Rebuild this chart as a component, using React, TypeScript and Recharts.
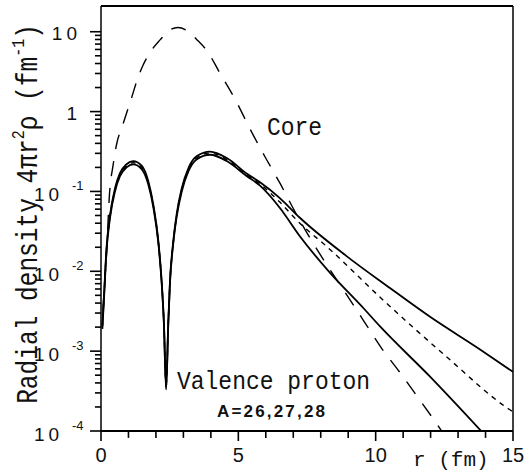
import { LineChart, Line, XAxis, YAxis, ReferenceLine } from 'recharts';

// radius r (fm) and radial density 4πr²ρ (fm⁻¹)

const coreR = [0.07, 0.12, 0.2, 0.3, 0.45, 0.58, 0.76, 0.95, 1.13, 1.3, 1.53, 1.8, 2.15, 2.5, 2.8, 3.1, 3.5, 3.9, 4.3, 4.95, 5.4, 5.95, 6.52, 7.06, 7.64, 8.26, 8.88, 9.5, 10.23, 10.85, 11.5, 12.16, 12.4];
const coreRho = [0.0032, 0.0063, 0.0158, 0.083, 0.224, 0.407, 0.63, 1.0, 1.55, 2.4, 3.8, 5.6, 7.9, 10.5, 11.3, 10.5, 7.9, 5.5, 3.16, 1.29, 0.63, 0.28, 0.126, 0.056, 0.025, 0.0115, 0.0055, 0.0026, 0.00107, 0.00056, 0.000275, 0.000132, 0.0001];

// the three valence curves nearly coincide inside r ~ 6 fm
const innerR = [0.05, 0.11, 0.2, 0.33, 0.51, 0.69, 0.93, 1.17, 1.48, 1.72, 1.91, 2.09, 2.21, 2.29, 2.37, 2.45, 2.51, 2.63, 2.75, 2.94, 3.18, 3.48, 3.97, 4.58, 5.3, 5.79];

const upperR = [...innerR, 6.5, 7.24, 8.94, 10.52, 11.98, 13.8, 15];
const upperRho = [0.0021, 0.005, 0.0195, 0.051, 0.11, 0.17, 0.219, 0.24, 0.21, 0.135, 0.067, 0.0235, 0.0074, 0.0023, 0.00036, 0.0023, 0.0074, 0.0235, 0.051, 0.11, 0.195, 0.275, 0.315, 0.262, 0.168, 0.13,
    0.0832, 0.0468, 0.0155, 0.00617, 0.00269, 0.00105, 0.00055];

const midR = [...innerR, 6.5, 7.24, 8.22, 10.3, 12.58, 14.83, 15];
const midRho = [0.002, 0.0048, 0.0186, 0.049, 0.105, 0.162, 0.209, 0.229, 0.2, 0.129, 0.0646, 0.0229, 0.00724, 0.00229, 0.00034, 0.00229, 0.00724, 0.0229, 0.049, 0.105, 0.186, 0.263, 0.302, 0.251, 0.162, 0.124,
    0.0741, 0.04, 0.0204, 0.00427, 0.00085, 0.00019, 0.000174];

const lowerR = [...innerR, 6.5, 7.24, 8.34, 9.55, 10.16, 11.98, 13.84];
const lowerRho = [0.0019, 0.0046, 0.0178, 0.047, 0.1, 0.155, 0.2, 0.218, 0.19, 0.123, 0.062, 0.0222, 0.007, 0.0022, 0.00033, 0.0022, 0.007, 0.0222, 0.047, 0.1, 0.178, 0.252, 0.288, 0.24, 0.156, 0.118,
    0.063, 0.0275, 0.00955, 0.00347, 0.00204, 0.000479, 0.0001];

const xMajor = [0, 5, 10, 15];
const xMinor = [1, 2, 3, 4, 6, 7, 8, 9, 11, 12, 13, 14];

const yMajor = [0.0001, 0.001, 0.01, 0.1, 1, 10];
const yMajorBase = ['10', '10', '10', '10', '1', '10'];
const yMajorExp = ['-4', '-3', '-2', '-1', '', ''];
const yMantissa = [2, 3, 4, 5, 6, 7, 8, 9];
const yDecades = [0.0001, 0.001, 0.01, 0.1, 1];

const Y_MIN = 0.0001;
const Y_MAX = 21;
const AXIS_LEFT = 101; // = YAxis width, margin.left is 0

// minor tick lengths, in data units (drawn as reference segments outside the plot)
const Y_MINOR_LEN = 0.22; // r units, ~6px
const X_MINOR_END = 0.000082; // below 1e-4, ~7px

const toPoints = (rs: number[], vs: number[]) => rs.map((r, i) => ({ r, v: vs[i] }));

const coreData = toPoints(coreR, coreRho);
const upperData = toPoints(upperR, upperRho);
const midData = toPoints(midR, midRho);
const lowerData = toPoints(lowerR, lowerRho);

const yMinor = yDecades.flatMap((d) => yMantissa.map((m) => m * d));

const MONO = "'Liberation Mono', 'DejaVu Sans Mono', monospace";
const SANS = "'Liberation Sans', Arial, sans-serif";
const TICK = '#000';

function YTick(props: any) {
    const { y, payload } = props;
    const x = AXIS_LEFT;
    const idx = yMajor.indexOf(payload.value);
    if (idx < 0) return <g />;
    const exp = yMajorExp[idx];
    return (
        <g>
            <path d={`M${x - 11},${y}H${x}`} stroke={TICK} strokeWidth={1.6} fill="none" />
            {exp !== '' ? (
                <>
                    <text x={x - 67} y={y + 10} fontFamily={SANS} fontSize={19} letterSpacing={4} fill="#111">
                        {yMajorBase[idx]}
                    </text>
                    <text x={x - 29} y={y - 1} fontFamily={SANS} fontSize={13} fill="#111">
                        {exp}
                    </text>
                </>
            ) : (
                <text x={x - 20} y={y + 8} textAnchor="end" fontFamily={SANS} fontSize={19} letterSpacing={4} fill="#111">
                    {yMajorBase[idx]}
                </text>
            )}
        </g>
    );
}

function XTick(props: any) {
    const { x, y, payload } = props;
    if (!xMajor.includes(payload.value)) return <g />;
    return (
        <g>
            <path d={`M${x},${y}V${y + 10}`} stroke={TICK} strokeWidth={1.6} fill="none" />
            <text x={x} y={y + 31} textAnchor="middle" fontFamily={SANS} fontSize={20} fill="#111">
                {payload.value}
            </text>
        </g>
    );
}

export default function App() {
    return (
        <div style={{ position: 'absolute', left: 0, top: 0, width: 526, height: 472, background: '#fff' }}>
            <LineChart width={526} height={472} margin={{ top: 6, right: 13, bottom: 0, left: 0 }}>
                <XAxis
                    type="number"
                    dataKey="r"
                    domain={[0, 15]}
                    ticks={xMajor}
                    interval={0}
                    allowDataOverflow
                    height={41}
                    tickSize={0}
                    tickMargin={0}
                    tickLine={false}
                    tick={<XTick />}
                    axisLine={{ stroke: '#000', strokeWidth: 2 }}
                />
                <YAxis
                    type="number"
                    scale="log"
                    domain={[Y_MIN, Y_MAX]}
                    ticks={yMajor}
                    interval={0}
                    allowDataOverflow
                    width={101}
                    tickSize={0}
                    tickMargin={0}
                    tickLine={false}
                    tick={<YTick />}
                    axisLine={{ stroke: '#000', strokeWidth: 1.5 }}
                />
                <ReferenceLine y={Y_MAX} ifOverflow="visible" stroke="#000" strokeWidth={2} />
                <ReferenceLine x={15} ifOverflow="visible" stroke="#000" strokeWidth={1.5} />
                {yMinor.map((v) => (
                    <ReferenceLine key={`ym${v}`} segment={[{ x: -Y_MINOR_LEN, y: v }, { x: 0, y: v }]} ifOverflow="visible" stroke={TICK} strokeWidth={1.6} />
                ))}
                {xMinor.map((r) => (
                    <ReferenceLine key={`xm${r}`} segment={[{ x: r, y: Y_MIN }, { x: r, y: X_MINOR_END }]} ifOverflow="visible" stroke={TICK} strokeWidth={1.6} />
                ))}
                <Line data={coreData} dataKey="v" type="monotone" stroke="#000" strokeWidth={1.4} strokeDasharray="15 12" dot={false} isAnimationActive={false} />
                <Line data={upperData} dataKey="v" type="monotone" stroke="#000" strokeWidth={1.8} dot={false} isAnimationActive={false} />
                <Line data={midData} dataKey="v" type="monotone" stroke="#000" strokeWidth={1.4} strokeDasharray="5 5" dot={false} isAnimationActive={false} />
                <Line data={lowerData} dataKey="v" type="monotone" stroke="#000" strokeWidth={1.8} dot={false} isAnimationActive={false} />
            </LineChart>
            <svg width={526} height={472} style={{ position: 'absolute', left: 0, top: 0, pointerEvents: 'none' }}>
                <text transform="translate(37, 214) rotate(-90) scale(1, 1.2)" textAnchor="middle" fontFamily={MONO} fontSize={24.5} fill="#111">
                    Radial density 4πr
                    <tspan dy={-11} fontSize={15}>2</tspan>
                    <tspan dy={11}>ρ (fm</tspan>
                    <tspan dy={-11} fontSize={15}>-1</tspan>
                    <tspan dy={11}>)</tspan>
                </text>
                <text transform="translate(267, 135) scale(1, 1.15)" fontFamily={MONO} fontSize={23} fill="#111">Core</text>
                <text transform="translate(177, 389) scale(1, 1.15)" fontFamily={MONO} fontSize={23} fill="#111">Valence proton</text>
                <text x={217} y={417} fontFamily={SANS} fontWeight="bold" fontSize={17} textLength={108} lengthAdjust="spacing" fill="#111">A=26,27,28</text>
                <text x={413} y={466} fontFamily={MONO} fontSize={21} fill="#111">r (fm)</text>
            </svg>
        </div>
    );
}
